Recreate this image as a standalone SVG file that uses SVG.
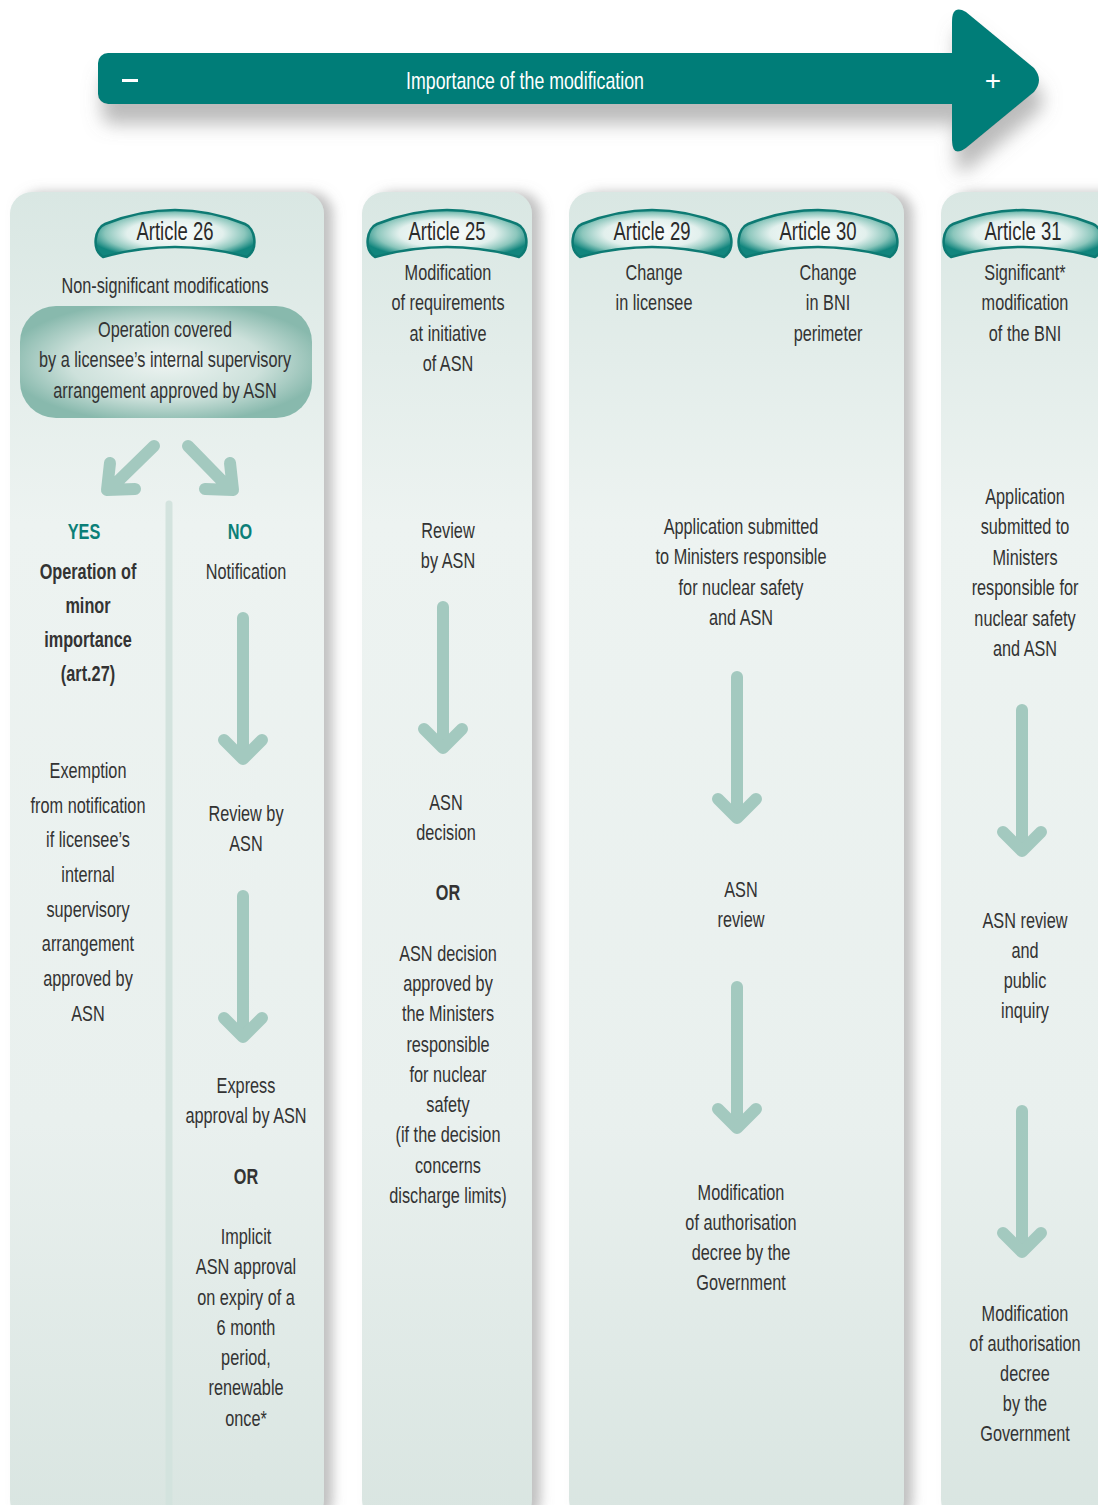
<svg xmlns="http://www.w3.org/2000/svg" xmlns:xlink="http://www.w3.org/1999/xlink" width="1098" height="1505" viewBox="0 0 1098 1505">
<style>
.t{font-family:"Liberation Sans",Arial,sans-serif;font-size:22px;fill:#333;text-anchor:middle}
.b{font-weight:bold}
.yn{fill:#0b7f78;font-weight:bold}
.art{font-size:25px;fill:#2b2b2b}
.w{fill:#fff;font-size:24px}
.col{fill:url(#colg);filter:url(#colsh)}
.badge{fill:url(#badg);stroke:#0d7a73;stroke-width:2.5}
.arr{fill:none;stroke:#a3c9bf;stroke-width:12;stroke-linecap:round;stroke-linejoin:round}
</style>
<defs>
<linearGradient id="colg" x1="0" y1="0" x2="0" y2="1">
<stop offset="0" stop-color="#d9e7e3"/>
<stop offset="0.25" stop-color="#edf3f1"/>
<stop offset="0.7" stop-color="#e9f0ee"/>
<stop offset="1" stop-color="#d9e5e1"/>
</linearGradient>
<radialGradient id="badg" cx="0.5" cy="0.5" r="0.55">
<stop offset="0" stop-color="#ffffff"/>
<stop offset="0.55" stop-color="#e2f0ed"/>
<stop offset="0.8" stop-color="#8bc6bc"/>
<stop offset="1" stop-color="#11857d"/>
</radialGradient>
<radialGradient id="boxg" cx="0.5" cy="0.5" r="0.55">
<stop offset="0" stop-color="#eef4f2"/>
<stop offset="0.6" stop-color="#cde1db"/>
<stop offset="1" stop-color="#88b9ad"/>
</radialGradient>
<filter id="colsh" x="-0.1" y="-0.05" width="1.3" height="1.1">
<feDropShadow dx="9" dy="0" stdDeviation="6" flood-color="#8f8f8f" flood-opacity="0.55"/>
</filter>
<filter id="arrsh" x="-0.1" y="-0.3" width="1.3" height="1.8">
<feDropShadow dx="4" dy="20" stdDeviation="9" flood-color="#777" flood-opacity="0.5"/>
</filter>
<path id="badgeShape" d="M -70,-7 Q 0,-35 70,-7 C 80,-3 84,18 72,26 Q 0,6 -72,26 C -84,18 -80,-3 -70,-7 Z"/>
<g id="varrow">
<line x1="0" y1="6" x2="0" y2="140"/>
<path d="M -19,128 L 0,147 L 19,128"/>
</g>
</defs>
<rect width="1098" height="1505" fill="#fff"/>

<g id="scale-arrow">
<g filter="url(#arrsh)" fill="#027d78">
<rect x="98" y="53" width="870" height="51" rx="10"/>
<path d="M 952,22 Q 952,4 966,12 L 1034,68 Q 1044,80 1034,92 L 966,148 Q 952,158 952,140 Z"/>
</g>
<text class="t w" transform="translate(525,89) scale(0.74,1)">Importance of the modification</text>
<rect x="122" y="79" width="16" height="3" fill="#fff"/>
<text class="t w" transform="translate(993,90)" style="font-size:28px">+</text>
</g>

<g id="columns">
<rect class="col" x="10" y="192" width="314" height="1330" rx="22"/>
<rect class="col" x="362" y="192" width="170" height="1330" rx="22"/>
<rect class="col" x="569" y="192" width="335" height="1330" rx="22"/>
<rect class="col" x="941" y="192" width="180" height="1330" rx="22"/>
<line x1="169" y1="504" x2="169" y2="1520" stroke="#d3e3de" stroke-width="7" stroke-linecap="round"/>
</g>

<g id="connectors" class="arr">
<path d="M 154,446 L 111,488 M 110,463 L 107,490 L 135,489"/>
<path d="M 188,446 L 229,488 M 230,463 L 233,490 L 205,489"/>
<use xlink:href="#varrow" x="243" y="612"/>
<use xlink:href="#varrow" x="243" y="890"/>
<use xlink:href="#varrow" x="443" y="601"/>
<use xlink:href="#varrow" x="737" y="671"/>
<use xlink:href="#varrow" x="737" y="981"/>
<use xlink:href="#varrow" x="1022" y="704"/>
<use xlink:href="#varrow" x="1022" y="1105"/>
</g>

<g id="badge-art26"><use xlink:href="#badgeShape" class="badge" x="175" y="231"/><text class="t art" transform="translate(175,240) scale(0.74,1)">Article 26</text></g>
<g id="badge-art25"><use xlink:href="#badgeShape" class="badge" x="447" y="231"/><text class="t art" transform="translate(447,240) scale(0.74,1)">Article 25</text></g>
<g id="badge-art29"><use xlink:href="#badgeShape" class="badge" x="652" y="231"/><text class="t art" transform="translate(652,240) scale(0.74,1)">Article 29</text></g>
<g id="badge-art30"><use xlink:href="#badgeShape" class="badge" x="818" y="231"/><text class="t art" transform="translate(818,240) scale(0.74,1)">Article 30</text></g>
<g id="badge-art31"><use xlink:href="#badgeShape" class="badge" x="1023" y="231"/><text class="t art" transform="translate(1023,240) scale(0.74,1)">Article 31</text></g>

<g id="c1-title"><text class="t" transform="translate(165,293) scale(0.74,1)">Non-significant modifications</text></g>
<g id="c1-box">
<rect x="20" y="306" width="292" height="112" rx="36" fill="url(#boxg)"/>
<text class="t" transform="translate(165,337) scale(0.74,1)"><tspan x="0" dy="0">Operation covered</tspan><tspan x="0" dy="30.5">by a licensee’s internal supervisory</tspan><tspan x="0" dy="30.5">arrangement approved by ASN</tspan></text>
</g>
<g id="c1-yes"><text class="t yn" transform="translate(84,539) scale(0.74,1)">YES</text></g>
<g id="c1-no"><text class="t yn" transform="translate(240,539) scale(0.74,1)">NO</text></g>
<g id="c1-minor"><text class="t b" transform="translate(88,579) scale(0.74,1)"><tspan x="0" dy="0">Operation of</tspan><tspan x="0" dy="34">minor</tspan><tspan x="0" dy="34">importance</tspan><tspan x="0" dy="34">(art.27)</tspan></text></g>
<g id="c1-exempt"><text class="t" transform="translate(88,778) scale(0.74,1)"><tspan x="0" dy="0">Exemption</tspan><tspan x="0" dy="34.7">from notification</tspan><tspan x="0" dy="34.7">if licensee’s</tspan><tspan x="0" dy="34.7">internal</tspan><tspan x="0" dy="34.7">supervisory</tspan><tspan x="0" dy="34.7">arrangement</tspan><tspan x="0" dy="34.7">approved by</tspan><tspan x="0" dy="34.7">ASN</tspan></text></g>
<g id="c1-notif"><text class="t" transform="translate(246,579) scale(0.74,1)">Notification</text></g>
<g id="c1-review"><text class="t" transform="translate(246,821) scale(0.74,1)"><tspan x="0" dy="0">Review by</tspan><tspan x="0" dy="30">ASN</tspan></text></g>
<g id="c1-express"><text class="t" transform="translate(246,1093) scale(0.74,1)"><tspan x="0" dy="0">Express</tspan><tspan x="0" dy="30">approval by ASN</tspan></text></g>
<g id="c1-or"><text class="t b" transform="translate(246,1184) scale(0.74,1)">OR</text></g>
<g id="c1-implicit"><text class="t" transform="translate(246,1244) scale(0.74,1)"><tspan x="0" dy="0">Implicit</tspan><tspan x="0" dy="30.3">ASN approval</tspan><tspan x="0" dy="30.3">on expiry of a</tspan><tspan x="0" dy="30.3">6 month</tspan><tspan x="0" dy="30.3">period,</tspan><tspan x="0" dy="30.3">renewable</tspan><tspan x="0" dy="30.3">once*</tspan></text></g>

<g id="c2-title"><text class="t" transform="translate(448,280) scale(0.74,1)"><tspan x="0" dy="0">Modification</tspan><tspan x="0" dy="30.3">of requirements</tspan><tspan x="0" dy="30.3">at initiative</tspan><tspan x="0" dy="30.3">of ASN</tspan></text></g>
<g id="c2-review"><text class="t" transform="translate(448,538) scale(0.74,1)"><tspan x="0" dy="0">Review</tspan><tspan x="0" dy="30">by ASN</tspan></text></g>
<g id="c2-decision"><text class="t" transform="translate(446,810) scale(0.74,1)"><tspan x="0" dy="0">ASN</tspan><tspan x="0" dy="30">decision</tspan></text></g>
<g id="c2-or"><text class="t b" transform="translate(448,900) scale(0.74,1)">OR</text></g>
<g id="c2-approved"><text class="t" transform="translate(448,961) scale(0.74,1)"><tspan x="0" dy="0">ASN decision</tspan><tspan x="0" dy="30.25">approved by</tspan><tspan x="0" dy="30.25">the Ministers</tspan><tspan x="0" dy="30.25">responsible</tspan><tspan x="0" dy="30.25">for nuclear</tspan><tspan x="0" dy="30.25">safety</tspan><tspan x="0" dy="30.25">(if the decision</tspan><tspan x="0" dy="30.25">concerns</tspan><tspan x="0" dy="30.25">discharge limits)</tspan></text></g>

<g id="c3-licensee"><text class="t" transform="translate(654,280) scale(0.74,1)"><tspan x="0" dy="0">Change</tspan><tspan x="0" dy="30.3">in licensee</tspan></text></g>
<g id="c3-perimeter"><text class="t" transform="translate(828,280) scale(0.74,1)"><tspan x="0" dy="0">Change</tspan><tspan x="0" dy="30.3">in BNI</tspan><tspan x="0" dy="30.3">perimeter</tspan></text></g>
<g id="c3-application"><text class="t" transform="translate(741,534) scale(0.74,1)"><tspan x="0" dy="0">Application submitted</tspan><tspan x="0" dy="30.3">to Ministers responsible</tspan><tspan x="0" dy="30.3">for nuclear safety</tspan><tspan x="0" dy="30.3">and ASN</tspan></text></g>
<g id="c3-review"><text class="t" transform="translate(741,897) scale(0.74,1)"><tspan x="0" dy="0">ASN</tspan><tspan x="0" dy="30">review</tspan></text></g>
<g id="c3-decree"><text class="t" transform="translate(741,1200) scale(0.74,1)"><tspan x="0" dy="0">Modification</tspan><tspan x="0" dy="30">of authorisation</tspan><tspan x="0" dy="30">decree by the</tspan><tspan x="0" dy="30">Government</tspan></text></g>

<g id="c4-title"><text class="t" transform="translate(1025,280) scale(0.74,1)"><tspan x="0" dy="0">Significant*</tspan><tspan x="0" dy="30.5">modification</tspan><tspan x="0" dy="30.5">of the BNI</tspan></text></g>
<g id="c4-application"><text class="t" transform="translate(1025,504) scale(0.74,1)"><tspan x="0" dy="0">Application</tspan><tspan x="0" dy="30.4">submitted to</tspan><tspan x="0" dy="30.4">Ministers</tspan><tspan x="0" dy="30.4">responsible for</tspan><tspan x="0" dy="30.4">nuclear safety</tspan><tspan x="0" dy="30.4">and ASN</tspan></text></g>
<g id="c4-review"><text class="t" transform="translate(1025,928) scale(0.74,1)"><tspan x="0" dy="0">ASN review</tspan><tspan x="0" dy="30">and</tspan><tspan x="0" dy="30">public</tspan><tspan x="0" dy="30">inquiry</tspan></text></g>
<g id="c4-decree"><text class="t" transform="translate(1025,1321) scale(0.74,1)"><tspan x="0" dy="0">Modification</tspan><tspan x="0" dy="30">of authorisation</tspan><tspan x="0" dy="30">decree</tspan><tspan x="0" dy="30">by the</tspan><tspan x="0" dy="30">Government</tspan></text></g>
</svg>
